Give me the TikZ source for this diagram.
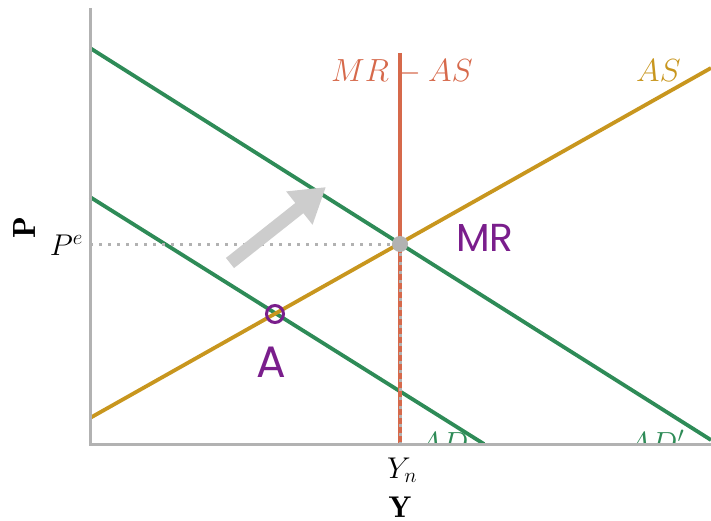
\RequirePackage{fix-cm}
\documentclass[tikz,border=0pt]{standalone}
\usepackage{fontspec}
\newfontfamily\handfont{Poppins}
\usetikzlibrary{arrows.meta}
\definecolor{axisgrey}{RGB}{178,178,178}
\definecolor{adgreen}{RGB}{46,139,87}
\definecolor{asgold}{RGB}{200,150,30}
\definecolor{mrorange}{RGB}{214,105,75}
\definecolor{handpurple}{RGB}{122,30,140}
\definecolor{arrowgrey}{RGB}{205,205,205}
\tikzset{
  axisline/.style={draw=axisgrey, line width=3pt},
  curve/.style={line width=3.8pt},
  biglabel/.style={font=\fontsize{32}{36}\selectfont, inner sep=0pt},
  axlabel/.style={font=\fontsize{30}{34}\selectfont, inner sep=0pt},
  hand/.style={font=\handfont\fontsize{39}{42}\selectfont, text=handpurple, inner sep=0pt},
  guide/.style={draw=axisgrey, line width=3pt, dash pattern=on 3pt off 6pt}
}
\begin{document}
\begin{tikzpicture}[x=1pt,y=-1pt]
\useasboundingbox (0,0) rectangle (711,521);
% coordinates
\coordinate (o) at (90,444);
\coordinate (ytop) at (90,8);
\coordinate (xend) at (711,444);
\coordinate (adps) at (90,48);
\coordinate (adpe) at (711,440);
\coordinate (ads) at (90,197);
\coordinate (ade) at (484,444);
\coordinate (ass) at (90,418);
\coordinate (ase) at (711,68);
\coordinate (mrtop) at (400,53);
\coordinate (mrbot) at (400,444);
\coordinate (pe) at (90,244);
\coordinate (arrs) at (230,263);
\coordinate (arre) at (326,187);
% clipped AD labels
\begin{scope}
\clip (90,0) rectangle (711,443);
\node[biglabel, text=adgreen, anchor=base west] (adlab) at (418,454) {$AD$};
\node[biglabel, text=adgreen, anchor=base west] (adplab) at (627,454) {$AD'$};
\end{scope}
% curves
\draw[curve, adgreen] (adps) -- (adpe);
\draw[curve, adgreen] (ads) -- (ade);
\draw[curve, asgold] (ass) -- (ase);
\draw[curve, mrorange] (mrtop) -- (mrbot);
% guides
\draw[guide] (pe) -- (400,244);
\draw[guide] (400,244) -- (mrbot);
% axes
\draw[axisline] (ytop) -- (o) -- (xend);
% equilibrium point
\node[circle, fill=axisgrey, minimum size=16pt, inner sep=0pt] (eq) at (400,244) {};
% arrow
\draw[arrowgrey, line width=13pt, -{Triangle[length=34pt, width=40pt]}] (arrs) -- (arre);
% labels
\node[biglabel, text=mrorange, anchor=base west] (mrlab) at (331,82) {$MR - AS$};
\node[biglabel, text=asgold, anchor=base west] (aslab) at (636,82) {$AS$};
\node[axlabel, anchor=base east] (pelab) at (83,255) {$P^{e}$};
\node[axlabel, font=\fontsize{32}{36}\selectfont, rotate=90] (plab) at (25,228) {$\mathbf{P}$};
\node[axlabel, anchor=base west] (ynlab) at (387,478) {$Y_{n}$};
\node[axlabel, anchor=base] (ylab) at (400,517) {$\mathbf{Y}$};
% handwritten annotations
\node[hand] (mrhand) at (485,238) {MR};
\node[hand, font=\handfont\fontsize{44}{48}\selectfont] (ahand) at (271,362) {A};
\node[circle, draw=handpurple, line width=3pt, minimum size=17pt, inner sep=0pt] (acirc) at (275,314) {};
\end{tikzpicture}
\end{document}
